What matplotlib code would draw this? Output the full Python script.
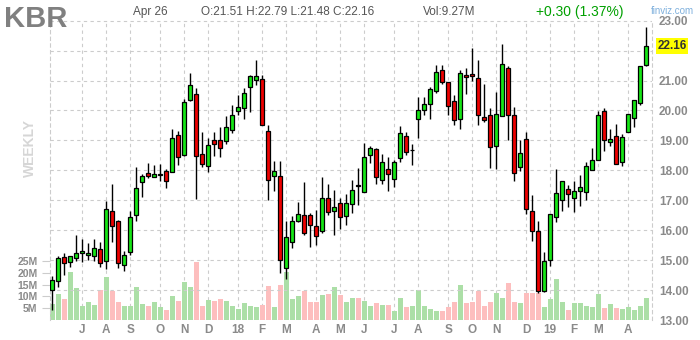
import matplotlib.pyplot as plt

plt.rcParams['font.family'] = ['Liberation Sans', 'DejaVu Sans']

# weekly KBR data (week of May 29 2017 .. Apr 22 2019)
ticker = 'KBR'
last_date = 'Apr 26'
change, change_pct = 0.30, 1.37

opens = [13.99, 14.29, 15.09, 14.94, 15.07, 15.23, 15.16, 15.13, 15.37, 14.96,
         16.63, 16.32, 14.83, 15.26, 16.52, 17.61, 17.91, 17.78, 17.86, 17.97,
         17.93, 19.17, 18.50, 20.34, 20.56, 18.55, 18.13, 19.00, 19.00, 18.97,
         19.34, 19.97, 20.07, 20.77, 21.01, 21.04, 19.30, 17.80, 17.80, 14.74,
         15.59, 16.30, 16.50, 16.52, 16.13, 15.96, 17.06, 16.63, 16.90, 16.46,
         16.88, 17.50, 17.27, 18.50, 18.71, 17.67, 18.04, 17.70, 18.41, 19.14,
         18.67, 19.70, 20.00, 20.23, 20.64, 21.34, 20.94, 20.31, 19.70, 21.17,
         21.21, 21.07, 19.77, 19.84, 18.80, 19.80, 21.41, 19.84, 18.10, 19.04,
         16.63, 15.96, 13.98, 15.00, 16.43, 17.02, 17.39, 17.06, 17.30, 17.27,
         18.02, 18.36, 19.97, 18.94, 19.14, 18.27, 19.27, 19.75, 20.25, 21.51]
highs = [14.46, 15.13, 15.23, 15.15, 15.85, 15.71, 15.57, 15.71, 15.61, 16.99,
         17.55, 16.35, 15.29, 16.63, 18.10, 17.88, 18.24, 18.19, 18.22, 18.06,
         19.38, 19.30, 20.38, 21.25, 20.75, 19.27, 19.08, 19.27, 19.45, 19.83,
         20.19, 20.51, 20.75, 21.17, 21.67, 21.17, 19.50, 18.30, 18.30, 16.30,
         16.46, 16.94, 17.61, 16.57, 16.69, 17.78, 17.54, 17.34, 17.08, 17.21,
         17.67, 18.08, 18.91, 18.80, 18.75, 18.55, 18.43, 18.36, 19.47, 19.27,
         18.89, 20.44, 20.44, 20.77, 21.52, 21.52, 20.94, 20.51, 21.34, 21.42,
         22.09, 21.69, 20.88, 20.08, 20.62, 22.22, 21.47, 20.10, 19.02, 19.27,
         17.16, 16.30, 15.26, 16.55, 18.04, 17.63, 17.50, 17.63, 17.86, 18.28,
         18.75, 19.97, 20.08, 19.38, 19.55, 19.22, 19.89, 20.34, 21.50, 22.79]
lows = [13.35, 14.09, 14.49, 14.76, 14.96, 14.93, 15.00, 14.96, 14.76, 14.71,
        15.61, 14.74, 14.63, 15.18, 16.30, 17.10, 17.74, 17.77, 17.63, 17.41,
        17.93, 18.19, 18.49, 20.31, 17.04, 18.11, 17.93, 18.47, 18.43, 18.88,
        19.25, 19.86, 19.73, 19.95, 20.86, 19.50, 17.02, 17.30, 14.57, 14.38,
        15.41, 16.27, 15.85, 15.45, 15.52, 15.91, 16.52, 15.83, 16.04, 16.18,
        16.59, 16.85, 17.27, 18.24, 17.55, 17.55, 17.32, 17.44, 18.27, 18.52,
        18.19, 19.08, 19.86, 19.73, 20.58, 20.90, 19.86, 19.50, 19.39, 20.55,
        20.97, 19.50, 19.60, 18.08, 18.04, 19.80, 19.02, 17.63, 17.97, 16.55,
        15.63, 13.89, 13.94, 14.81, 16.27, 16.65, 16.76, 16.61, 16.82, 17.02,
        18.00, 18.36, 18.63, 18.82, 18.22, 18.13, 19.27, 19.44, 20.19, 21.48]
closes = [14.35, 15.07, 14.90, 15.13, 15.23, 15.29, 15.23, 15.41, 14.90, 16.71,
          16.13, 14.90, 15.18, 16.43, 17.41, 17.80, 17.80, 17.88, 17.87, 17.63,
          19.08, 18.43, 20.27, 20.86, 18.47, 18.22, 18.84, 18.89, 18.75, 19.44,
          19.84, 20.12, 20.57, 21.14, 21.14, 19.53, 17.67, 17.97, 14.99, 15.76,
          16.30, 16.53, 15.90, 16.16, 15.80, 17.06, 16.60, 16.76, 16.43, 16.90,
          17.33, 17.48, 18.43, 18.75, 17.77, 18.27, 17.89, 18.27, 19.24, 18.60,
          18.68, 20.00, 20.21, 20.71, 21.27, 20.94, 20.14, 19.68, 21.24, 21.11,
          21.14, 19.84, 19.67, 18.77, 19.87, 21.54, 19.84, 17.90, 18.57, 16.70,
          15.96, 13.96, 14.96, 16.55, 17.23, 17.63, 17.20, 17.30, 17.43, 18.13,
          18.36, 19.86, 19.00, 19.05, 18.22, 19.10, 19.89, 20.34, 21.50, 22.16]
volumes = [6.6, 10.8, 8.7, 20.1, 13.4, 5.9, 7.5, 6.3, 12.7, 18.0,
           12.3, 7.7, 5.9, 5.9, 14.1, 6.6, 5.9, 7.5, 5.4, 4.1,
           10.0, 7.9, 15.9, 13.8, 24.4, 5.8, 8.3, 7.9, 8.7, 7.9,
           5.8, 4.5, 7.0, 5.8, 5.4, 6.2, 14.2, 5.4, 14.6, 20.1,
           8.7, 10.0, 12.1, 7.5, 7.5, 10.4, 10.8, 13.8, 10.4, 7.5,
           9.2, 9.2, 7.9, 5.8, 7.0, 6.2, 6.2, 3.7, 9.2, 5.4,
           5.8, 12.7, 5.8, 4.5, 3.7, 3.7, 5.4, 7.5, 14.6, 7.0,
           7.5, 12.1, 5.8, 7.5, 11.3, 9.2, 15.5, 7.5, 7.0, 11.3,
           11.3, 11.3, 5.4, 8.7, 17.2, 7.5, 4.1, 7.0, 7.0, 5.8,
           5.4, 10.8, 4.9, 6.6, 4.9, 4.5, 5.4, 4.1, 6.1, 9.27]

month_pos = [5, 9, 13, 18, 22, 26, 31, 35, 39, 44, 48, 52, 57, 61, 66, 70,
             74, 79, 83, 87, 91, 96]
month_labels = ['J', 'A', 'S', 'O', 'N', 'D', '18', 'F', 'M', 'A', 'M', 'J',
                'J', 'A', 'S', 'O', 'N', 'D', '19', 'F', 'M', 'A']
price_ticks = [13, 14, 15, 16, 17, 18, 19, 20, 21, 22, 23]
vol_ticks = [5, 10, 15, 20, 25]

grid_kw = dict(color='#cccccc', linestyle=(0, (3, 3)), linewidth=0.8)
lbl_color = '#8a8a8a'

fig = plt.figure(figsize=(7, 3.4), dpi=100)
vax = fig.add_axes([50 / 700, 20 / 340, 602 / 700, 300 / 340])
ax = vax.twinx()

x = list(range(len(closes)))
up = [c >= o for o, c in zip(opens, closes)]

# volume
vcol = ['#acdfa7' if u else '#fdbebe' for u in up]
vax.bar(x, volumes, width=0.85, color=vcol, zorder=2)
vax.set_ylim(0, 126.8)
vax.set_xlim(-0.38, 99.95)
vax.set_yticks(vol_ticks, [f'{v}M' for v in vol_ticks])
vax.tick_params(axis='y', length=6, color='#cccccc', pad=3, labelsize=7.5,
                labelcolor=lbl_color)
vax.set_xticks(month_pos, month_labels)
vax.tick_params(axis='x', length=0, pad=3, labelsize=8.5, labelcolor=lbl_color)
for t in vax.get_xticklabels() + vax.get_yticklabels():
    t.set_fontweight('bold')
vax.grid(axis='x', **grid_kw)
vax.set_axisbelow(True)
for s in ['top', 'bottom']:
    vax.spines[s].set_visible(False)
for s in ['left', 'right']:
    vax.spines[s].set_color('#cccccc')
    vax.spines[s].set_linestyle((0, (3, 3)))
    vax.spines[s].set_linewidth(0.8)

# candles
ax.vlines(x, lows, highs, color='black', linewidth=1.0, zorder=3)
bottoms = [min(o, c) for o, c in zip(opens, closes)]
heights = [max(abs(c - o), 0.02) for o, c in zip(opens, closes)]
ccol = ['#16e616' if u else '#ee0000' for u in up]
ax.bar(x, heights, bottom=bottoms, width=0.7, color=ccol, edgecolor='black',
       linewidth=0.9, zorder=4)
ax.set_ylim(13.0, 23.023)
ax.set_yticks(price_ticks, ['' if p == 22 else f'{p:.2f}' for p in price_ticks])
ax.tick_params(axis='y', length=0, pad=5, labelsize=8.5, labelcolor=lbl_color)
for t in ax.get_yticklabels():
    t.set_fontweight('bold')
ax.grid(axis='y', **grid_kw)
ax.set_axisbelow(True)
for s in ax.spines.values():
    s.set_visible(False)

ax.text(1.009, closes[-1], f'{closes[-1]:.2f}', transform=ax.get_yaxis_transform(),
        ha='left', va='center', fontsize=8.5, fontweight='bold', color='#333333',
        bbox=dict(boxstyle='square,pad=0.15', facecolor='#ffff00', edgecolor='none'),
        clip_on=False, zorder=6)

# header
def fx(px):
    return px / 700


def fy(py):
    return 1 - py / 340


fig.text(fx(4), fy(19), ticker, fontsize=21, fontweight='bold', color='#808080',
         ha='left', va='center')
fig.text(fx(133), fy(12), last_date, fontsize=8.5, color='#555555', va='center')
fig.text(fx(201), fy(12),
         f'O:{opens[-1]:.2f} H:{highs[-1]:.2f} L:{lows[-1]:.2f} C:{closes[-1]:.2f}',
         fontsize=8.5, color='#555555', va='center')
fig.text(fx(423), fy(12), f'Vol:{volumes[-1]:.2f}M', fontsize=8.5, color='#555555',
         va='center')
fig.text(fx(536), fy(12), f'+{change:.2f} ({change_pct:.2f}%)', fontsize=10,
         color='#00a000', va='center')
fig.text(fx(694), fy(11), 'finviz.com', fontsize=7, color='#7fb0dd', ha='right',
         va='center')
fig.text(fx(30), fy(148), 'WEEKLY', fontsize=10, fontweight='bold', color='#d6d6d6',
         rotation=90, ha='center', va='center')

fig.savefig('out.png', dpi=100)
